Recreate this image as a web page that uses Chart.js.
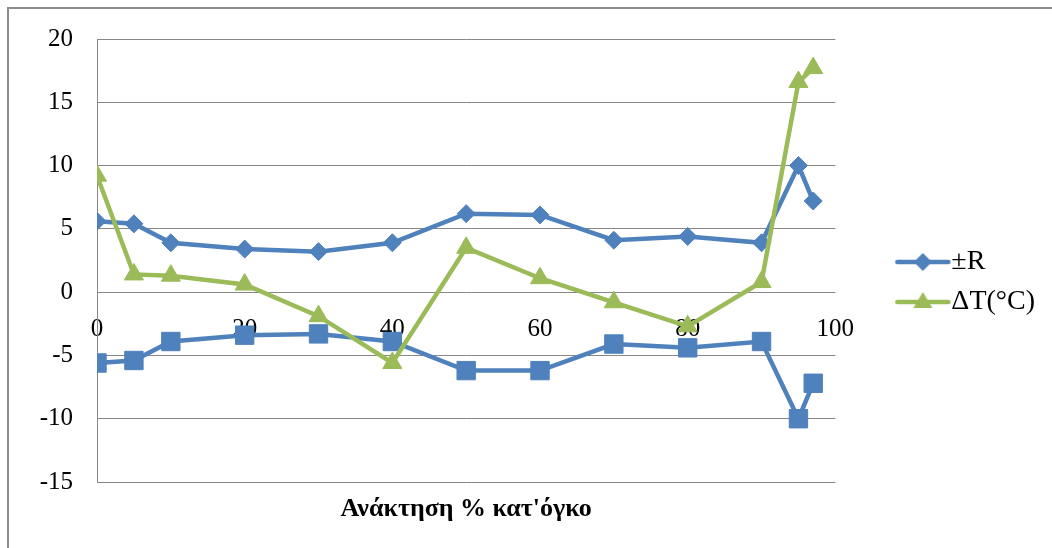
<!DOCTYPE html>
<html>
<head>
<meta charset="utf-8">
<script src="https://cdn.jsdelivr.net/npm/chart.js@4.4.1/dist/chart.umd.min.js"></script>
<style>
  html, body { margin: 0; padding: 0; background: #fff; }
  #wrap { position: relative; width: 1052px; height: 548px; overflow: hidden; }
  #frame { position: absolute; left: 7px; top: 7px; width: 1200px; height: 700px;
           border-top: 2px solid #8c8c8c; border-left: 2px solid #8c8c8c; }
  #c { position: absolute; left: 0; top: 0; }
</style>
</head>
<body>
<div id="wrap">
  <div id="frame"></div>
  <canvas id="c" width="1052" height="548"></canvas>
</div>
<script>
// Recovery (% by volume) on the x axis
const recovery = [0, 5, 10, 20, 30, 40, 50, 60, 70, 80, 90, 95, 97];
// +R and -R envelope
const rPlus  = [5.6, 5.4, 3.9, 3.4, 3.2, 3.9, 6.2, 6.1, 4.1, 4.4, 3.9, 10.0, 7.2];
const rMinus = [-5.6, -5.4, -3.9, -3.4, -3.3, -3.9, -6.2, -6.2, -4.1, -4.4, -3.9, -10.0, -7.2];
// Temperature difference ΔT (°C)
const deltaT = [9.2, 1.4, 1.3, 0.6, -1.9, -5.6, 3.5, 1.1, -0.8, -2.7, 0.8, 16.6, 17.7];

const xTicks = [0, 20, 40, 60, 80, 100];
const yTicks = [-15, -10, -5, 0, 5, 10, 15, 20];

const seriesNames = ['±R', 'ΔT(°C)'];
const axisTitle = "Ανάκτηση % κατ'όγκο";

const BLUE = '#4F81BD';
const GREEN = '#9BBB59';
const GRID = '#878787';
const FONT = "'Liberation Serif', 'Times New Roman', serif";

const toPoints = (xs, ys) => xs.map((x, i) => ({ x: x, y: ys[i] }));

// Legend swatch: a short line with the series marker in its middle
function legendSwatch(color, marker) {
  const cv = document.createElement('canvas');
  cv.width = 120; cv.height = 30;
  const g = cv.getContext('2d');
  g.strokeStyle = color; g.lineWidth = 4.5; g.lineCap = 'round';
  g.beginPath(); g.moveTo(65, 15); g.lineTo(116, 15); g.stroke();
  g.fillStyle = color;
  const cx = 90.5, cy = 15;
  g.beginPath();
  if (marker === 'diamond') {
    g.moveTo(cx, cy - 9); g.lineTo(cx + 9, cy); g.lineTo(cx, cy + 9); g.lineTo(cx - 9, cy);
  } else {
    g.moveTo(cx, cy - 10); g.lineTo(cx + 9.5, cy + 6); g.lineTo(cx - 9.5, cy + 6);
  }
  g.closePath(); g.fill();
  return cv;
}
const swatches = [legendSwatch(BLUE, 'diamond'), legendSwatch(GREEN, 'triangle')];

new Chart(document.getElementById('c'), {
  type: 'line',
  data: {
    datasets: [
      {
        label: seriesNames[0],
        data: toPoints(recovery, rPlus),
        borderColor: BLUE, backgroundColor: BLUE,
        borderWidth: 4.5, pointStyle: 'rectRot', pointRadius: 9,
        pointBorderWidth: 1, order: 2
      },
      {
        label: seriesNames[0] + ' ',
        data: toPoints(recovery, rMinus),
        borderColor: BLUE, backgroundColor: BLUE,
        borderWidth: 4.5, pointStyle: 'rect', pointRadius: 13,
        pointBorderWidth: 1, order: 1
      },
      {
        label: seriesNames[1],
        data: toPoints(recovery, deltaT),
        borderColor: GREEN, backgroundColor: GREEN,
        borderWidth: 4.5, pointStyle: 'triangle', pointRadius: 11,
        pointBorderWidth: 1, order: 0
      }
    ]
  },
  options: {
    responsive: false,
    animation: false,
    devicePixelRatio: 1,
    layout: { padding: { top: 36, right: 7, bottom: 20, left: 0 } },
    elements: { line: { tension: 0 } },
    plugins: {
      tooltip: { enabled: false },
      title: { display: false },
      legend: {
        position: 'right',
        align: 'center',
        labels: {
          usePointStyle: true,
          pointStyleWidth: 90,
          padding: 12,
          color: '#000',
          font: { family: FONT, size: 28 },
          generateLabels: () => seriesNames.map((name, i) => ({
            text: name,
            pointStyle: swatches[i],
            fillStyle: 'transparent',
            strokeStyle: 'transparent',
            lineWidth: 0,
            hidden: false,
            datasetIndex: i === 0 ? 0 : 2
          }))
        }
      }
    },
    scales: {
      x: {
        type: 'linear',
        position: 'bottom',
        min: 0, max: 100,
        ticks: { display: false },
        grid: { display: false, drawTicks: false },
        border: { display: false },
        title: {
          display: true,
          text: axisTitle,
          color: '#000',
          font: { family: FONT, size: 26, weight: 'bold' },
          padding: { top: 0, bottom: 3 }
        },
        afterFit: (s) => { s.height = 46; }
      },
      x2: {
        type: 'linear',
        position: { y: 0 },
        min: 0, max: 100,
        afterBuildTicks: (s) => { s.ticks = xTicks.map(v => ({ value: v })); },
        ticks: { color: '#000', font: { family: FONT, size: 25 }, padding: 22, maxRotation: 0 },
        grid: { display: false, drawTicks: false },
        border: { display: false },
        afterFit: (s) => { s.height = 0; }
      },
      y: {
        type: 'linear',
        position: 'left',
        min: -15, max: 20,
        afterBuildTicks: (s) => { s.ticks = yTicks.map(v => ({ value: v })); },
        ticks: { color: '#000', font: { family: FONT, size: 25 }, padding: 24 },
        grid: { color: GRID, lineWidth: 1, drawTicks: false },
        border: { display: true, color: GRID, width: 1 },
        afterFit: (s) => { s.width = 97; }
      }
    }
  }
});
</script>
</body>
</html>
